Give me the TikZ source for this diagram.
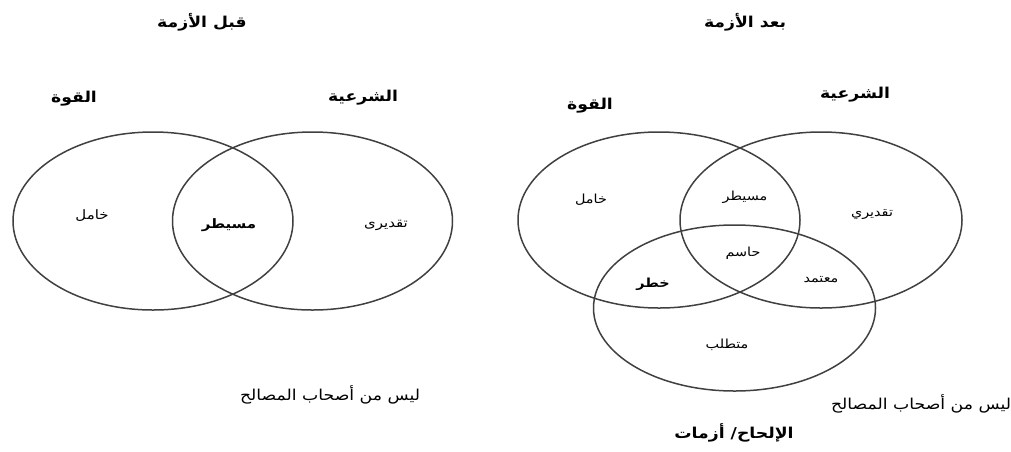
\documentclass[tikz,border=0pt]{standalone}
\usepackage{fontspec}
\newfontfamily\arabicfont[Script=Arabic, FakeStretch=1.15]{DejaVu Sans}
\TeXXeTstate=1
\newcommand{\artext}[1]{\beginR #1\endR}
\tikzset{
    venn/.style={draw=black!75, line width=1.5pt},
    lbl/.style={inner sep=0pt, font=\arabicfont\fontsize{12.5}{14}\selectfont},
    lblbold/.style={inner sep=0pt, font=\arabicfont\bfseries\fontsize{12.5}{14}\selectfont},
    lblbig/.style={inner sep=0pt, font=\arabicfont\fontsize{13}{15}\selectfont},
    lblbigbold/.style={inner sep=0pt, font=\arabicfont\bfseries\fontsize{13}{15}\selectfont},
    nonholder/.style={inner sep=0pt, font=\arabicfont\fontsize{15}{17}\selectfont},
    heading/.style={inner sep=0pt, font=\arabicfont\bfseries\fontsize{15}{17}\selectfont},
}
\begin{document}
\begin{tikzpicture}[x=1pt, y=-1pt]
        \useasboundingbox (0, 0) rectangle (1011, 451);
        % before the crisis
        \foreach \cx in {153, 312.5}{
            \draw[venn] (\cx, 221) ellipse [x radius=140, y radius=89];
        }
        \node (beforeTitle) at (202, 22)[heading]{\artext{قبل الأزمة}};
        \node (beforePower) at (74, 99)[heading]{\artext{القوة}};
        \node (beforeLegit) at (363, 98)[heading]{\artext{الشرعية}};
        \node (beforeDormant) at (92, 216)[lblbig]{\artext{خامل}};
        \node (beforeDominant) at (229, 225)[lblbigbold]{\artext{مسيطر}};
        \node (beforeDiscret) at (386, 225)[lblbig]{\artext{تقديرى}};
        \node (beforeNon) at (330, 395)[nonholder]{\artext{ليس من أصحاب المصالح}};
        % after the crisis
        \foreach \cx in {659, 821}{
            \draw[venn] (\cx, 220) ellipse [x radius=141, y radius=88];
        }
        \draw[venn] (734.5, 308) ellipse [x radius=141, y radius=83];
        \node (afterTitle) at (745, 22)[heading]{\artext{بعد الأزمة}};
        \node (afterPower) at (590, 106)[heading]{\artext{القوة}};
        \node (afterLegit) at (855, 95)[heading]{\artext{الشرعية}};
        \node (afterDormant) at (591, 200)[lbl]{\artext{خامل}};
        \node (afterDominant) at (745, 197)[lbl]{\artext{مسيطر}};
        \node (afterDiscret) at (872, 215)[lbl]{\artext{تقديري}};
        \node (afterDefinitive) at (743, 253)[lbl]{\artext{حاسم}};
        \node (afterDanger) at (653, 284)[lblbold]{\artext{خطر}};
        \node (afterDepend) at (821, 280)[lbl]{\artext{معتمد}};
        \node (afterDemand) at (727, 345)[lbl]{\artext{متطلب}};
        \node (afterNon) at (921, 404)[nonholder]{\artext{ليس من أصحاب المصالح}};
        \node (afterUrgency) at (734, 433)[heading]{\artext{الإلحاح/ أزمات}};
    \end{tikzpicture}
\end{document}
